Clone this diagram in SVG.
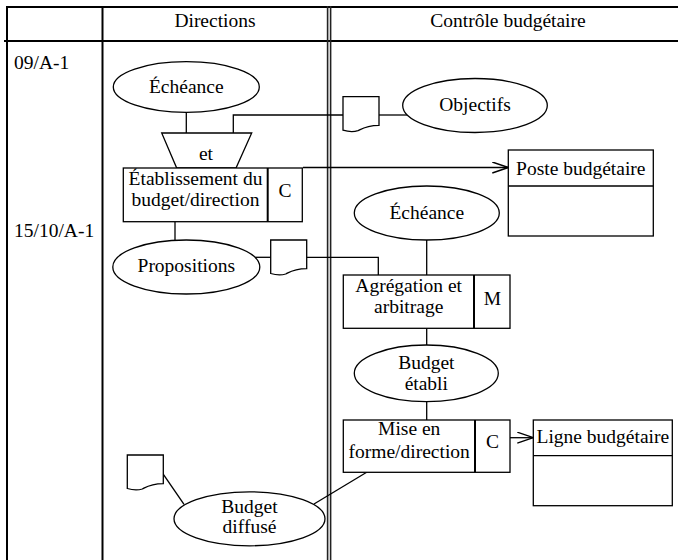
<svg xmlns="http://www.w3.org/2000/svg" width="678" height="560" viewBox="0 0 678 560">
<style>
text{font-family:"Liberation Serif","Times New Roman",serif;font-size:19.5px;fill:#000}
.c{text-anchor:middle}
.s{fill:#fff;stroke:#000;stroke-width:1.3}
.d{stroke:#000;stroke-width:2;fill:none}
.ln{stroke:#000;stroke-width:1.3;fill:none}
.tb{stroke:#000;stroke-width:2;fill:none}
.tb2{stroke:#222;stroke-width:1.6;fill:none}
</style>
<defs>
<path id="doc" d="M0,0 H36 V28.6 C23,28.8 19,32 15,34 C10,35.5 5,35 0,33.5 Z"/>
<marker id="arr" markerWidth="18" markerHeight="14" refX="16" refY="6" orient="auto" markerUnits="userSpaceOnUse">
<path d="M0,0.5 L16,6 L0,11.5" fill="none" stroke="#000" stroke-width="1.4"/>
</marker>
</defs>
<rect width="678" height="560" fill="#fff"/>
<g id="table">
<line class="tb" x1="7" y1="7" x2="678" y2="7"/>
<line class="tb" x1="4" y1="41" x2="678" y2="41"/>
<line class="tb" x1="7" y1="6" x2="7" y2="560"/>
<line class="tb" x1="102.5" y1="6" x2="102.5" y2="560"/>
<line class="tb2" x1="327.6" y1="6" x2="327.6" y2="560"/>
<line class="tb2" x1="330.6" y1="6" x2="330.6" y2="560"/>
<text class="c" x="215" y="27">Directions</text>
<text class="c" x="508" y="27">Contrôle budgétaire</text>
<text x="14" y="68.5">09/A-1</text>
<text x="14" y="237">15/10/A-1</text>
</g>
<g id="connectors">
<line class="ln" x1="186.3" y1="112.3" x2="186.3" y2="133"/>
<polyline class="ln" points="343,115 233.3,115 233.3,133"/>
<line class="ln" x1="379" y1="115" x2="407.5" y2="115"/>
<line class="ln" x1="303" y1="167.5" x2="508.3" y2="167.5" marker-end="url(#arr)"/>
<line class="ln" x1="175" y1="221.7" x2="175" y2="240.4"/>
<line class="ln" x1="255" y1="257.3" x2="270.7" y2="257.3"/>
<polyline class="ln" points="306.7,257.3 378.3,257.3 378.3,275"/>
<line class="ln" x1="426.7" y1="240" x2="426.7" y2="275"/>
<line class="ln" x1="426.7" y1="328.3" x2="426.7" y2="345"/>
<line class="ln" x1="426.7" y1="401.6" x2="426.7" y2="420"/>
<line class="ln" x1="510" y1="437.7" x2="533.3" y2="437.7" marker-end="url(#arr)"/>
<line class="ln" x1="162.7" y1="473.3" x2="184" y2="504.3"/>
<line class="ln" x1="366.7" y1="472.3" x2="314" y2="504"/>
</g>
<g id="echeance1">
<ellipse class="s" cx="186.3" cy="87" rx="73" ry="25.3"/>
<text class="c" x="186.3" y="93.3">Échéance</text>
</g>
<g id="doc-objectifs">
<use href="#doc" x="343" y="96.7" class="s"/>
</g>
<g id="objectifs">
<ellipse class="s" cx="475" cy="105.5" rx="72.3" ry="27"/>
<text class="c" x="475" y="110.5">Objectifs</text>
</g>
<g id="et">
<polygon class="s" points="161.7,133 251.7,133 236,168 176.7,168"/>
<text class="c" x="206" y="160">et</text>
</g>
<g id="etablissement">
<rect class="s" x="123.3" y="168" width="179" height="53.7"/>
<line class="d" x1="267.7" y1="168" x2="267.7" y2="221.7"/>
<text class="c" x="195.5" y="184.5">Établissement du</text>
<text class="c" x="195.5" y="206.3">budget/direction</text>
<text class="c" x="285" y="197">C</text>
</g>
<g id="poste">
<rect class="s" x="508.3" y="150" width="145" height="86"/>
<line class="ln" x1="508.3" y1="186" x2="653.3" y2="186"/>
<text class="c" x="580.8" y="175">Poste budgétaire</text>
</g>
<g id="echeance2">
<ellipse class="s" cx="426.8" cy="213" rx="72.5" ry="27"/>
<text class="c" x="426.8" y="218.5">Échéance</text>
</g>
<g id="propositions">
<ellipse class="s" cx="186.3" cy="267" rx="73.5" ry="27"/>
<text class="c" x="186.3" y="272">Propositions</text>
</g>
<g id="doc-propositions">
<use href="#doc" x="270.7" y="240" class="s"/>
</g>
<g id="agregation">
<rect class="s" x="343.3" y="275" width="166.7" height="53.3"/>
<line class="d" x1="474" y1="275" x2="474" y2="328.3"/>
<text class="c" x="408.7" y="291.7">Agrégation et</text>
<text class="c" x="408.7" y="313.3">arbitrage</text>
<text class="c" x="492.3" y="305">M</text>
</g>
<g id="budget-etabli">
<ellipse class="s" cx="426.3" cy="373.3" rx="72" ry="28.3"/>
<text class="c" x="426.3" y="369.3">Budget</text>
<text class="c" x="426.3" y="390">établi</text>
</g>
<g id="mise-en-forme">
<rect class="s" x="343.3" y="420" width="166.7" height="52.3"/>
<line class="d" x1="475" y1="420" x2="475" y2="472.3"/>
<text class="c" x="409.2" y="435">Mise en</text>
<text class="c" x="409.2" y="458.3">forme/direction</text>
<text class="c" x="492.5" y="447.7">C</text>
</g>
<g id="ligne">
<rect class="s" x="533.3" y="420" width="139" height="85.7"/>
<line class="ln" x1="533.3" y1="455.7" x2="672.3" y2="455.7"/>
<text class="c" x="602.8" y="443.3">Ligne budgétaire</text>
</g>
<g id="doc-diffuse">
<use href="#doc" x="127.3" y="455" class="s"/>
</g>
<g id="budget-diffuse">
<ellipse class="s" cx="249.5" cy="518.8" rx="75.5" ry="27"/>
<text class="c" x="249.5" y="512.5">Budget</text>
<text class="c" x="249.5" y="532.5">diffusé</text>
</g>
</svg>
